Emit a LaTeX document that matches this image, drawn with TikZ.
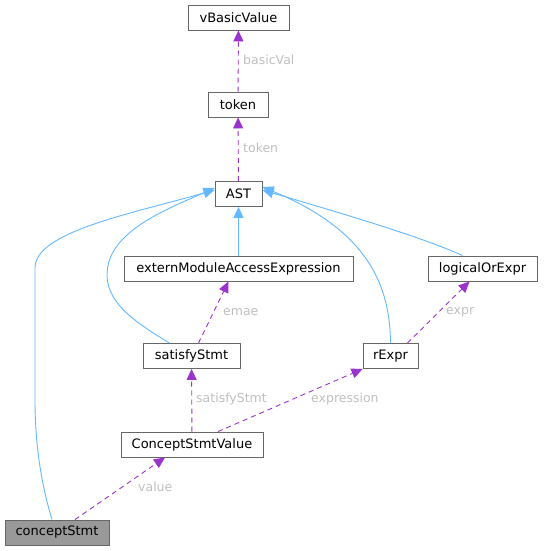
\documentclass[tikz,border=0pt]{standalone}
\usepackage{fontspec}
\setmainfont{DejaVu Sans}
\usetikzlibrary{arrows.meta}
\definecolor{edgeblue}{HTML}{63B8FF}
\definecolor{edgepurple}{HTML}{9A32CD}
\definecolor{labelgray}{HTML}{BFBFBF}
\definecolor{boxgray}{HTML}{666666}
\definecolor{selfgray}{HTML}{999999}

\begin{document}
\begin{tikzpicture}[
  x=1pt, y=-1pt,
  font=\fontsize{13}{15}\selectfont,
  cls/.style={draw=boxgray, fill=white, line width=0.9pt, minimum height=25pt, inner sep=0pt},
  self/.style={cls, fill=selfgray},
  inherit/.style={-{Triangle[length=11pt, width=10pt]}, draw=edgeblue, line width=0.9pt},
  member/.style={-{Triangle[length=11pt, width=10pt]}, draw=edgepurple, line width=0.9pt, dash pattern=on 5pt off 4pt},
  lbl/.style={text=labelgray, inner sep=0pt, anchor=west, font=\fontsize{12.5}{15}\selectfont}
]
\useasboundingbox (0,0) rectangle (543,551);

\node[cls, minimum width=101pt] (vBasicValue) at (238.5,17.5) {vBasicValue};
\node[cls, minimum width=60pt] (token) at (238,104.5) {token};
\node[cls, minimum width=47pt] (AST) at (238.5,194) {AST};
\node[cls, minimum width=229pt] (emae) at (238.5,268.5) {externModuleAccessExpression};
\node[cls, minimum width=109pt] (logicalOrExpr) at (482.5,268.5) {logicalOrExpr};
\node[cls, minimum width=97pt] (satisfyStmt) at (191.5,356) {satisfyStmt};
\node[cls, minimum width=55pt] (rExpr) at (390.5,356) {rExpr};
\node[cls, minimum width=142pt] (csValue) at (192,444.5) {ConceptStmtValue};
\node[self, minimum width=104pt] (conceptStmt) at (57,532.5) {conceptStmt};

% members
\draw[member] (token) -- (vBasicValue);
\node[lbl] (lBasicVal) at (243,60) {basicVal};
\draw[member] (AST) -- (token);
\node[lbl] (lToken) at (243,148) {token};
\draw[member] ([xshift=7pt]satisfyStmt.north) -- ([xshift=-10pt]emae.south);
\node[lbl] (lEmae) at (223,312) {emae};
\draw[member] ([xshift=17pt]rExpr.north) -- ([xshift=-13pt]logicalOrExpr.south);
\node[lbl] (lExpr) at (446,312) {expr};
\draw[member] (csValue) -- (satisfyStmt);
\node[lbl] (lSatisfy) at (196,399) {satisfyStmt};
\draw[member] ([xshift=26pt]csValue.north) -- (rExpr.south west);
\node[lbl] (lExpression) at (311,399) {expression};
\draw[member] ([xshift=18pt]conceptStmt.north) -- ([xshift=-27pt]csValue.south);
\node[lbl] (lValue) at (138,487) {value};

% inheritance
\draw[inherit] (emae) -- (AST);
\draw[inherit] ([xshift=-20pt]logicalOrExpr.north) .. controls (420,236) and (330,210) .. ([yshift=4pt]AST.east);
\draw[inherit] (rExpr.north) .. controls (390,290) and (372,232) .. ([yshift=7pt]AST.east);
\draw[inherit] ([xshift=-22pt]satisfyStmt.north) .. controls (140,325) and (107,305) .. (107,275)
  .. controls (107,232) and (165,210) .. ([yshift=6pt]AST.west);
\draw[inherit] ([xshift=-5pt]conceptStmt.north) .. controls (40,480) and (35,440) .. (35,400)
  -- (35,268) .. controls (35,232) and (130,214) .. ([yshift=4pt]AST.west);
\end{tikzpicture}
\end{document}
